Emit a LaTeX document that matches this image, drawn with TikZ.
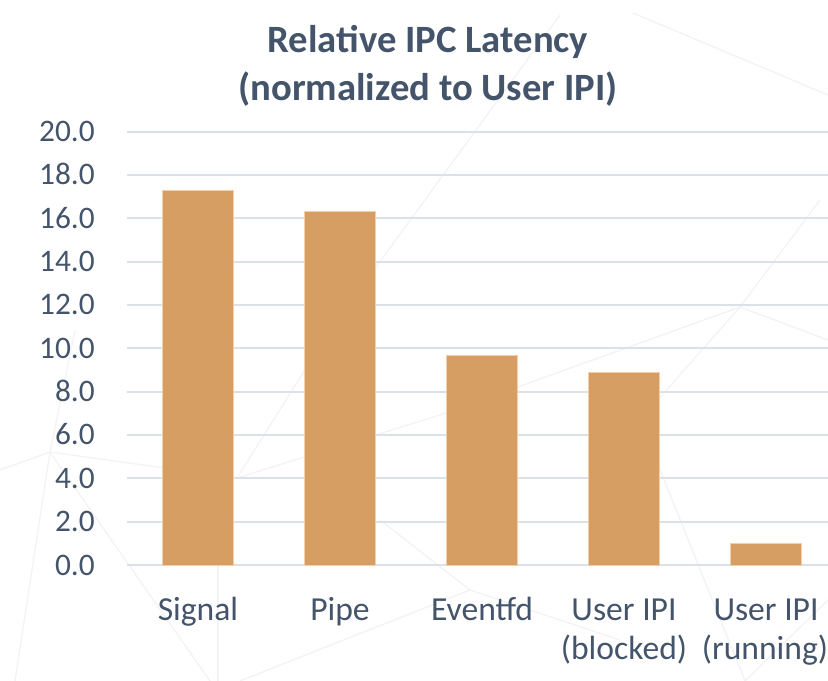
\documentclass[tikz,border=0pt]{standalone}
\usepackage{fontspec}
\setmainfont{Carlito}
\definecolor{txt}{HTML}{44546A}
\definecolor{barc}{HTML}{D69E62}
\definecolor{barline}{HTML}{F2CFA8}
\definecolor{gridc}{HTML}{DCE1E9}
\definecolor{bgl}{HTML}{F3F3F5}
\tikzset{
  gridline/.style={draw=gridc, line width=1.4pt},
  bgline/.style={draw=bgl, line width=1pt},
  barbox/.style={fill=barc, draw=barline, line width=0.5pt},
  ticklbl/.style={text=txt, inner sep=0pt, anchor=base east, font=\fontsize{23.5}{28}\selectfont},
  catlbl/.style={text=txt, inner sep=0pt, anchor=base, font=\fontsize{25.2}{30}\selectfont},
  titlelbl/.style={text=txt, inner sep=0pt, anchor=base, font=\fontsize{29}{34}\selectfont\bfseries},
}
\begin{document}
\begin{tikzpicture}[x=0.75pt,y=-0.75pt]
\useasboundingbox (0,0) rectangle (828,681);
% faint background network
\coordinate (pA) at (50,452);
\coordinate (pB) at (218,681);
\coordinate (pC) at (237,478);
\coordinate (pD) at (740,307);
\coordinate (pE) at (745,681);
\draw[bgline] (pA) -- (15,681);
\draw[bgline] (pA) -- (210,681);
\draw[bgline] (pA) -- (pC);
\draw[bgline] (pA) -- (0,470);
\draw[bgline] (pA) -- (75,330);
\draw[bgline] (pC) -- (440,415);
\draw[bgline] (pC) -- (330,330);
\draw[bgline] (218,565) -- (pB);
\draw[bgline] (240,681) -- (470,590);
\draw[bgline] (470,590) -- (620,640);
\draw[bgline] (470,590) -- (380,520);
\draw[bgline] (440,415) -- (pD);
\draw[bgline] (pD) -- (828,340);
\draw[bgline] (pD) -- (640,420);
\draw[bgline] (pD) -- (820,200);
\draw[bgline] (640,420) -- (pE);
\draw[bgline] (560,15) -- (330,330);
\draw[bgline] (633,13) -- (828,95);
\draw[bgline] (pE) -- (828,600);
% gridlines
\foreach \v in {0,2,...,20}
  \draw[gridline] (127,{565-21.67*\v}) -- (828,{565-21.67*\v});
% tick labels
\foreach \v/\s in {0/0.0,2/2.0,4/4.0,6/6.0,8/8.0,10/10.0,12/12.0,14/14.0,16/16.0,18/18.0,20/20.0}
  \node[ticklbl] (tick\v) at (95,{575-21.67*\v}) {\s};
% bars
\foreach \c/\val in {198/17.3, 340/16.3, 482/9.66, 624/8.87, 766/1.0}
  \draw[barbox] ({\c-35.5},565) rectangle ({\c+35.5},{565-21.67*\val});
% category labels
\node[catlbl] (cSignal) at (198,620) {Signal};
\node[catlbl] (cPipe) at (340,620) {Pipe};
\node[catlbl] (cEvent) at (482,620) {Eventfd};
\node[catlbl] (cUb1) at (624,620) {User IPI};
\node[catlbl] (cUb2) at (624,659) {(blocked)};
\node[catlbl] (cUr1) at (766,620) {User IPI};
\node[catlbl] (cUr2) at (765,659) {(running)};
% title
\node[titlelbl] (title1) at (428,53) {Relative IPC Latency};
\node[titlelbl] (title2) at (428,100.5) {(normalized to User IPI)};
\end{tikzpicture}
\end{document}
